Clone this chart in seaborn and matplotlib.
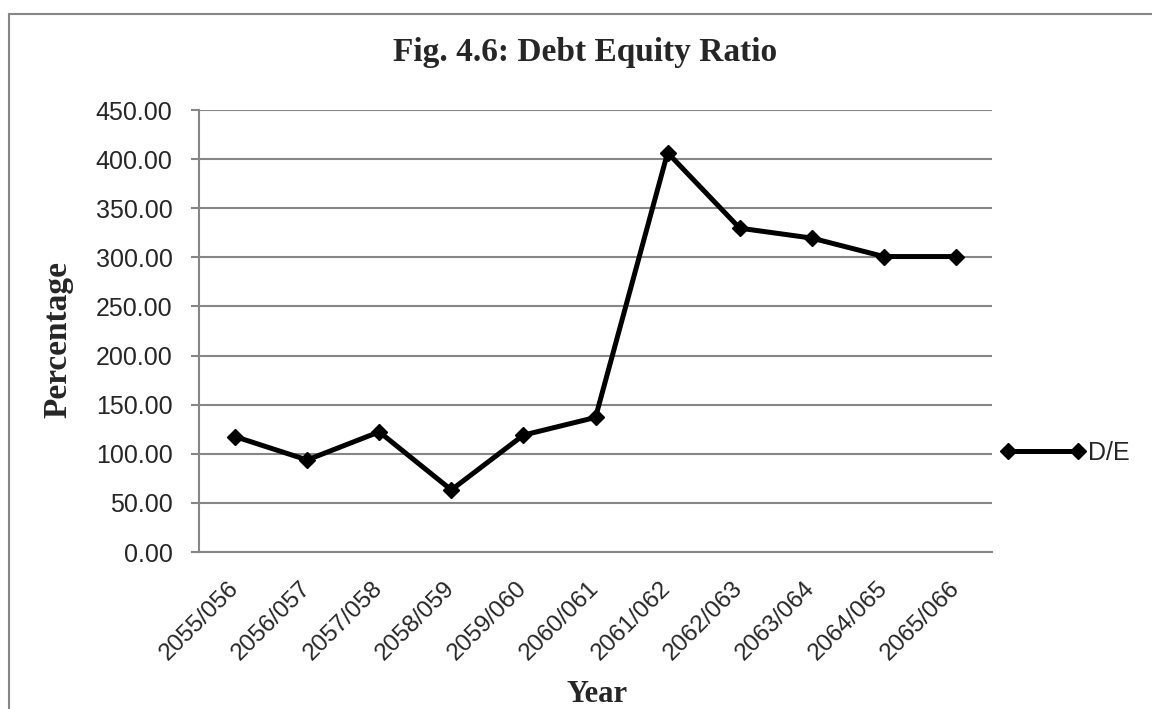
import pandas as pd
import matplotlib
matplotlib.use("Agg")
import matplotlib.pyplot as plt
import seaborn as sns
from matplotlib.patches import Rectangle

# values
years = ["2055/056", "2056/057", "2057/058", "2058/059", "2059/060", "2060/061",
         "2061/062", "2062/063", "2063/064", "2064/065", "2065/066"]
de_ratio = [117.5, 93.7, 122.3, 63.2, 119.0, 137.0, 406.5, 329.7, 319.6, 300.8, 300.8]
y_ticks = [0, 50, 100, 150, 200, 250, 300, 350, 400, 450]

df = pd.DataFrame({"Year": years, "D/E": de_ratio})

sns.set_style("white")
plt.rcParams["font.family"] = ["Liberation Sans", "DejaVu Sans"]

W, H = 1152, 709
fig = plt.figure(figsize=(W / 100, H / 100), dpi=100)
ax = fig.add_axes([199 / W, 1 - 552 / H, (992 - 199) / W, (552 - 110) / H])

grey = "#868686"

sns.lineplot(data=df, x="Year", y="D/E", sort=False, ax=ax, color="black",
             linewidth=3.6, marker="D", markersize=8, markeredgewidth=1,
             markeredgecolor="black", label="D/E")

ax.set_xlim(-0.5, len(years) - 0.5)
ax.set_ylim(0, 450)
ax.set_yticks(y_ticks)
ax.set_yticklabels([f"{v:.2f}" for v in y_ticks])
ax.yaxis.grid(True, color=grey, linewidth=1.5)
ax.set_axisbelow(True)

for side in ["top", "right"]:
    ax.spines[side].set_visible(False)
for side in ["left", "bottom"]:
    ax.spines[side].set_color(grey)
    ax.spines[side].set_linewidth(1.5)

ax.tick_params(axis="y", direction="out", length=6, width=1.5, color=grey,
               pad=13, labelsize=18, left=True)
ax.tick_params(axis="x", length=0, pad=24, labelsize=17.5)
for lab in ax.get_xticklabels():
    lab.set_rotation(45)
    lab.set_ha("right")
    lab.set_va("center")
    lab.set_rotation_mode("anchor")

ax.set_xlabel("Year", family="Liberation Serif", fontweight="bold", fontsize=22)
ax.xaxis.set_label_coords(597 / W, 1 - 694 / H, transform=fig.transFigure)
ax.set_ylabel("Percentage", family="Liberation Serif", fontweight="bold", fontsize=24)
ax.yaxis.set_label_coords(58 / W, 1 - 340 / H, transform=fig.transFigure)
ax.xaxis.label.set_va("center")
ax.yaxis.label.set_va("center")

fig.text(585 / W, 1 - 53 / H, "Fig. 4.6: Debt Equity Ratio", family="Liberation Serif",
         fontweight="bold", fontsize=24, ha="center", va="center")

leg = ax.legend(loc="center left", bbox_to_anchor=(1000 / W, 1 - 453 / H),
                bbox_transform=fig.transFigure, frameon=False, numpoints=2,
                handlelength=3.4, handletextpad=0.1, borderpad=0, borderaxespad=0,
                fontsize=18)

# outer chart frame (cut by the picture edges on the right and bottom)
fig.patches.append(Rectangle((9 / W, -0.2), 2.0, 1.2 - 14 / H, transform=fig.transFigure,
                             fill=False, edgecolor=grey, linewidth=1.5, clip_on=False))

fig.savefig("out.png", dpi=100)
